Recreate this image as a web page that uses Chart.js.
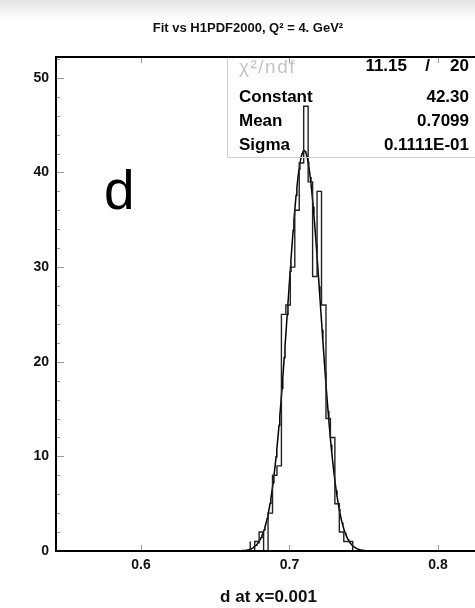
<!DOCTYPE html>
<html>
<head>
<meta charset="utf-8">
<title>d at x=0.001</title>
<script src="https://cdn.jsdelivr.net/npm/chart.js@4.4.1/dist/chart.umd.min.js"></script>
<style>
  html, body { margin: 0; padding: 0; overflow: hidden; background: #fff; }
  #page {
    position: relative; width: 475px; height: 608px; overflow: hidden;
    background: linear-gradient(to bottom, #e3e3e3 0px, #efefef 9px, #fff 19px);
  }
  #chartBox { position: absolute; left: 0; top: 0; width: 490px; height: 608px; }
  #title {
    position: absolute; left: 0; top: 20px; width: 496px; text-align: center;
    font: bold 13px/16px "Liberation Sans", Arial, sans-serif; color: #111;
  }
  #bigLetter {
    position: absolute; left: 104px; top: 162px;
    font: 55px/56px "Liberation Sans", Arial, sans-serif; color: #000;
  }
  #stats {
    position: absolute; left: 227px; top: 58px; width: 252px; height: 99px;
    border: 1px solid #cdcdcd; border-top: none;
    font-family: "Liberation Sans", Arial, sans-serif;
  }
  .lbl, .val { position: absolute; height: 20px; line-height: 20px; font-weight: bold; font-size: 17px; color: #000; white-space: pre; }
  .lbl { left: 11px; }
  .val { text-align: right; }
  .chi { font-weight: normal; color: #c4c4c4; font-size: 19px; letter-spacing: 1.5px; }
</style>
</head>
<body>
<div id="page">
  <div id="chartBox"><canvas id="histChart" width="490" height="608"></canvas></div>
  <div id="title">Fit vs H1PDF2000, Q² = 4. GeV²</div>
  <div id="bigLetter">d</div>
  <div id="stats"></div>
</div>
<script>
// 直方图分箱（下边界 + 最后一个上边界）
const binEdges = [0.6736, 0.6766, 0.6796, 0.6826, 0.6856, 0.6886, 0.6916, 0.6946, 0.6976, 0.7006,
                  0.7036, 0.7066, 0.7096, 0.7126, 0.7156, 0.7186, 0.7216, 0.7246, 0.7276, 0.7306,
                  0.7336, 0.7366, 0.7396, 0.7426, 0.7456];
const binCounts = [1, 0, 1, 2, 0, 4, 8, 9, 25, 26, 30, 36, 41, 47, 39, 29, 38, 26, 14, 12, 5, 2, 1, 1];

// 统计框
const chi2Text = ['11.15', '/', '20'];
const statLabels = ['Constant', 'Mean', 'Sigma'];
const statValues = ['42.30', '0.7099', '0.1111E-01'];

// 坐标轴
const xTickValues = [0.6, 0.7, 0.8];
const yTickValues = [0, 10, 20, 30, 40, 50];
const xRange = [0.5428, 0.8290];
const yRange = [0, 52.2];
const fitRange = [0.668, 0.752];

document.addEventListener('DOMContentLoaded', function() {
    buildStatsBox();
    initHistChart();
});

function buildStatsBox() {
    const box = document.getElementById('stats');
    const rows = [8, 38.5, 63, 87]; // 行中心（相对框顶）
    const addDiv = (cls, text, top, style) => {
        const d = document.createElement('div');
        d.className = cls;
        d.textContent = text;
        d.style.top = (top - 10) + 'px';
        Object.assign(d.style, style || {});
        box.appendChild(d);
    };
    addDiv('lbl chi', 'χ²/ndf', rows[0] + 1);
    addDiv('val', chi2Text[0], rows[0], { right: '73px' });
    addDiv('val', chi2Text[1], rows[0], { right: '50px' });
    addDiv('val', chi2Text[2], rows[0], { right: '11px' });
    statLabels.forEach((lab, i) => {
        addDiv('lbl', lab, rows[i + 1]);
        addDiv('val', statValues[i], rows[i + 1], { right: '11px' });
    });
}

function initHistChart() {
    const ctx = document.getElementById('histChart');

    // 直方图轮廓点
    const histPoints = [{ x: binEdges[0], y: 0 }];
    binCounts.forEach((c, i) => histPoints.push({ x: binEdges[i], y: c }));
    histPoints.push({ x: binEdges[binEdges.length - 1], y: 0 });

    // 高斯拟合曲线（参数取自统计框）
    const fitC = parseFloat(statValues[0]);
    const fitMean = parseFloat(statValues[1]);
    const fitSigma = parseFloat(statValues[2]);
    const fitPoints = [];
    for (let x = fitRange[0]; x <= fitRange[1] + 1e-9; x += 0.0005) {
        const t = (x - fitMean) / fitSigma;
        fitPoints.push({ x: x, y: fitC * Math.exp(-0.5 * t * t) });
    }

    const labelFont = { family: 'Liberation Sans', weight: 'bold', size: 14 };

    const frameTicks = {
        id: 'frameTicks',
        beforeDatasetsDraw(chart) {
            const { ctx, chartArea: a, scales: { x, y } } = chart;
            ctx.save();
            ctx.strokeStyle = '#9a9a9a';
            ctx.lineWidth = 1;
            ctx.beginPath();
            for (let v = 0; v <= yRange[1]; v += 2) {
                const py = Math.round(y.getPixelForValue(v)) + 0.5;
                const len = (v % 10 === 0) ? 8 : 4;
                ctx.moveTo(a.left, py);
                ctx.lineTo(a.left + len, py);
            }
            xTickValues.forEach(v => {
                const px = Math.round(x.getPixelForValue(v)) + 0.5;
                ctx.moveTo(px, a.bottom);
                ctx.lineTo(px, a.bottom - 6);
                ctx.moveTo(px, a.top);
                ctx.lineTo(px, a.top + 6);
            });
            ctx.stroke();
            ctx.restore();
        },
        afterDatasetsDraw(chart) {
            const { ctx, chartArea: a } = chart;
            ctx.save();
            ctx.strokeStyle = '#000';
            ctx.lineWidth = 2;
            ctx.beginPath();
            ctx.moveTo(a.right, a.top);
            ctx.lineTo(a.left, a.top);
            ctx.lineTo(a.left, a.bottom);
            ctx.lineTo(a.right, a.bottom);
            ctx.stroke();
            ctx.restore();
        }
    };

    new Chart(ctx, {
        type: 'scatter',
        data: {
            datasets: [{
                label: 'hist',
                data: histPoints,
                showLine: true,
                stepped: 'after',
                borderColor: '#222',
                borderWidth: 1.4,
                pointRadius: 0,
                fill: false
            }, {
                label: 'fit',
                data: fitPoints,
                showLine: true,
                borderColor: '#000',
                borderWidth: 1.5,
                pointRadius: 0,
                tension: 0,
                fill: false
            }]
        },
        options: {
            responsive: false,
            devicePixelRatio: 1,
            animation: false,
            layout: { padding: { left: 0, right: 9, top: 57, bottom: 0 } },
            plugins: {
                legend: { display: false },
                tooltip: { enabled: false },
                title: { display: false }
            },
            scales: {
                x: {
                    type: 'linear',
                    min: xRange[0],
                    max: xRange[1],
                    grid: { display: false, drawTicks: false },
                    border: { display: false },
                    afterBuildTicks: s => { s.ticks = xTickValues.map(v => ({ value: v })); },
                    afterFit: s => { s.height = 57; },
                    ticks: {
                        padding: 6,
                        color: '#111',
                        font: labelFont,
                        maxRotation: 0,
                        autoSkip: false,
                        callback: v => v.toFixed(1)
                    },
                    title: {
                        display: true,
                        text: 'd at x=0.001',
                        color: '#111',
                        font: { family: 'Liberation Sans', weight: 'bold', size: 17 },
                        padding: { top: 0, bottom: 0 }
                    }
                },
                y: {
                    min: yRange[0],
                    max: yRange[1],
                    grid: { display: false, drawTicks: false },
                    border: { display: false },
                    afterBuildTicks: s => { s.ticks = yTickValues.map(v => ({ value: v })); },
                    afterFit: s => { s.width = 56; },
                    ticks: {
                        padding: 7,
                        color: '#111',
                        font: labelFont,
                        callback: v => String(v)
                    }
                }
            }
        },
        plugins: [frameTicks]
    });
}
</script>
</body>
</html>
